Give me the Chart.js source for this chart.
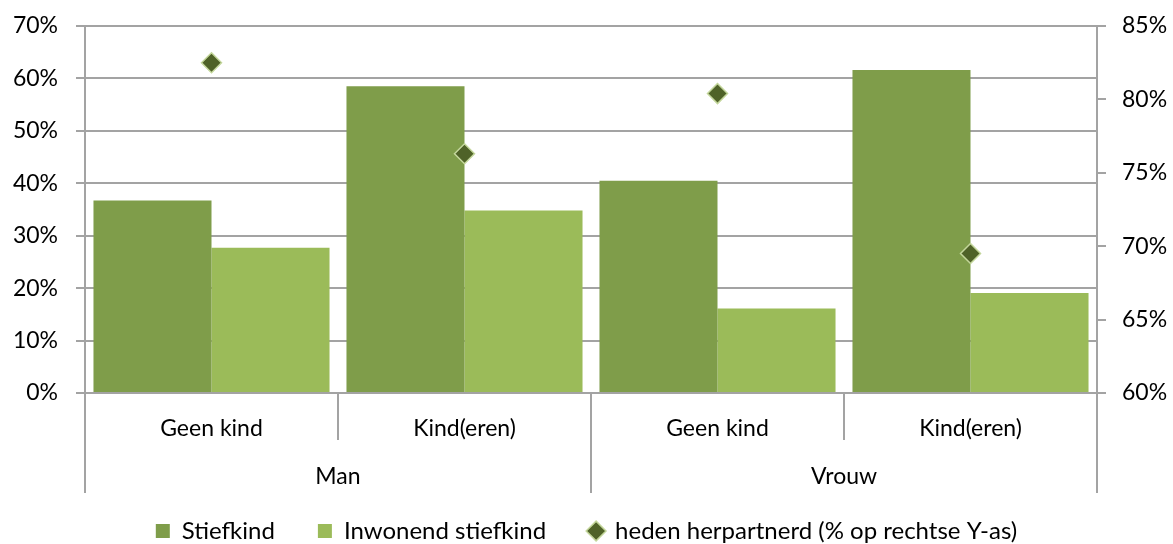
<!DOCTYPE html>
<html>
<head>
<meta charset="utf-8">
<script src="https://cdn.jsdelivr.net/npm/chart.js@4"></script>
<style>
html,body{margin:0;padding:0;background:#fff;}
#wrap{width:1173px;height:544px;}
</style>
</head>
<body>
<div id="wrap"><canvas id="c" width="1173" height="544"></canvas></div>
<script>
const categories = ['Geen kind', 'Kind(eren)', 'Geen kind', 'Kind(eren)'];
const groups = ['Man', 'Vrouw'];
const stiefkind = [36.7, 58.5, 40.5, 61.6];
const inwonend = [27.7, 34.8, 16.1, 19.1];
const herpartnerd = [82.5, 76.3, 80.4, 69.5];
const leftTicks = [0, 10, 20, 30, 40, 50, 60, 70];
const rightTicks = [60, 65, 70, 75, 80, 85];

const FONT = 'Lato';
const GRID = '#a3a3a3';

const groupPlugin = {
  id: 'groups',
  afterDraw(chart) {
    const x = chart.scales.x;
    const ctx = chart.ctx;
    const n = categories.length;
    const w = (x.right - x.left) / n;
    const bottom = chart.chartArea.bottom;
    ctx.save();
    ctx.strokeStyle = GRID;
    ctx.lineWidth = 2;
    for (let i = 0; i <= n; i++) {
      const bx = x.getPixelForValue(0) - w / 2 + i * w;
      const len = (i % 2 === 0) ? 100 : 47;
      ctx.beginPath();
      ctx.moveTo(bx, bottom);
      ctx.lineTo(bx, bottom + len);
      ctx.stroke();
    }
    ctx.fillStyle = '#000';
    ctx.font = '23px ' + FONT;
    ctx.textAlign = 'center';
    ctx.textBaseline = 'middle';
    groups.forEach((g, gi) => {
      const cx = (x.getPixelForValue(gi * 2) + x.getPixelForValue(gi * 2 + 1)) / 2;
      ctx.fillText(g, cx, bottom + 84);
    });
    ctx.restore();
  }
};

new Chart(document.getElementById('c'), {
  data: {
    labels: categories,
    datasets: [
      { type: 'bar', label: 'Stiefkind', data: stiefkind, backgroundColor: '#7f9d4a', yAxisID: 'y', order: 2, pointStyle: 'rect', barPercentage: 1.0, categoryPercentage: 0.933 },
      { type: 'bar', label: 'Inwonend stiefkind', data: inwonend, backgroundColor: '#9bbb59', yAxisID: 'y', order: 2, pointStyle: 'rect', barPercentage: 1.0, categoryPercentage: 0.933 },
      { type: 'line', label: 'heden herpartnerd (% op rechtse Y-as)', data: herpartnerd, yAxisID: 'y1', order: 0, showLine: false,
        pointStyle: 'rectRot', pointRadius: 10, pointHoverRadius: 10, backgroundColor: '#4f6228', borderColor: '#c3d69b', borderWidth: 1.5 }
    ]
  },
  options: {
    responsive: false,
    animation: false,
    events: [],
    layout: { padding: { top: 12, bottom: -9, left: 0, right: 0 } },
    plugins: {
      tooltip: { enabled: false },
      legend: {
        position: 'bottom',
        labels: {
          usePointStyle: true,
          boxHeight: 14,
          boxWidth: 14,
          padding: 43,
          color: '#000',
          font: { family: FONT, size: 24 },
          sort: (a, b) => a.datasetIndex - b.datasetIndex
        }
      }
    },
    scales: {
      x: {
        type: 'category',
        grid: { display: false },
        border: { display: true, color: GRID, width: 2 },
        ticks: { color: '#000', font: { family: FONT, size: 23 }, padding: 14, maxRotation: 0, autoSkip: false },
        afterFit: (s) => { s.height = 83; }
      },
      y: {
        position: 'left',
        min: 0, max: 70,
        afterBuildTicks: (s) => { s.ticks = leftTicks.map(v => ({ value: v })); },
        grid: { color: GRID, lineWidth: 2, tickLength: 9, drawTicks: true },
        border: { display: true, color: GRID, width: 2 },
        ticks: { color: '#000', font: { family: FONT, size: 23, lineHeight: 0.7 }, padding: 18, callback: (v) => v + '%' },
        afterFit: (s) => { s.width = 85; }
      },
      y1: {
        position: 'right',
        min: 60, max: 85,
        afterBuildTicks: (s) => { s.ticks = rightTicks.map(v => ({ value: v })); },
        grid: { drawOnChartArea: false, color: GRID, lineWidth: 2, tickLength: 9 },
        border: { display: true, color: GRID, width: 2 },
        ticks: { color: '#000', font: { family: FONT, size: 23, lineHeight: 0.7 }, padding: 16, callback: (v) => v + '%' },
        afterFit: (s) => { s.width = 76; }
      }
    }
  },
  plugins: [groupPlugin]
});
</script>
</body>
</html>
